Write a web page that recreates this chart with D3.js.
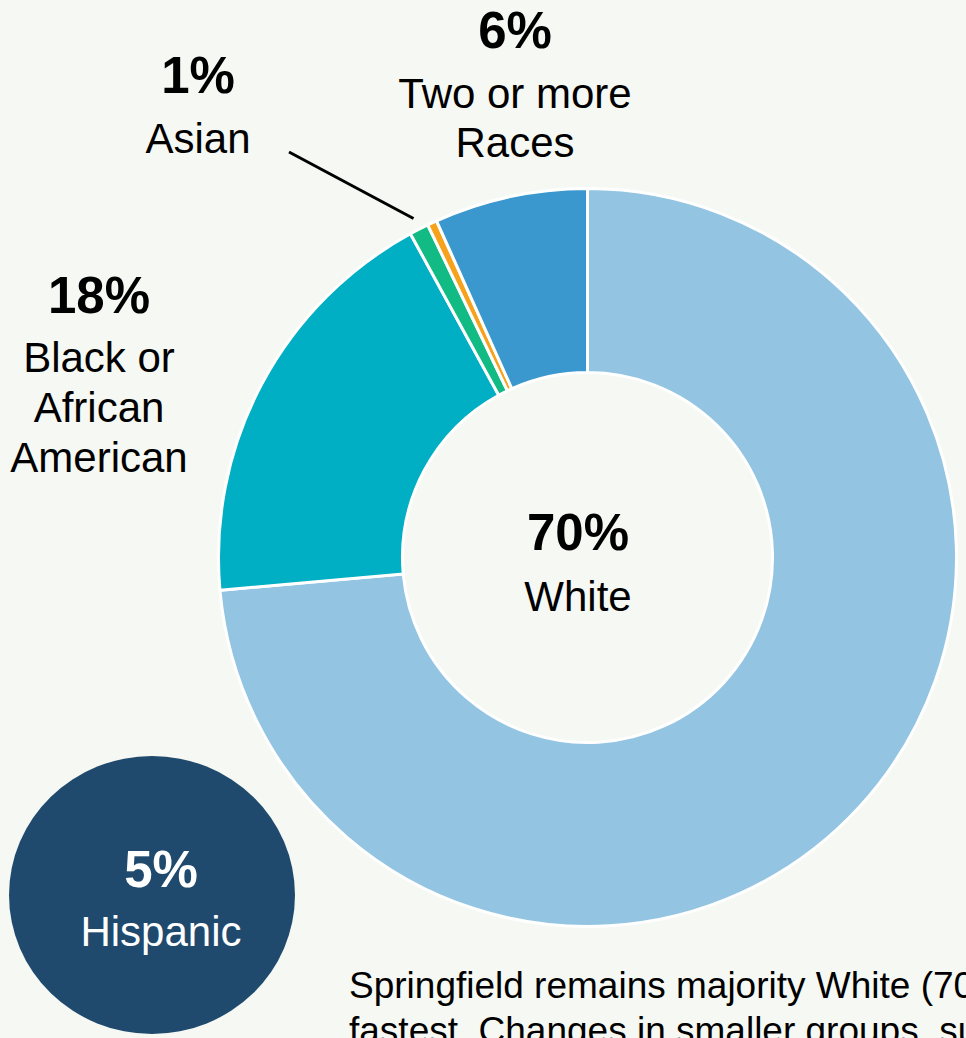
<!DOCTYPE html>
<html>
<head>
<meta charset="utf-8">
<script src="https://cdn.jsdelivr.net/npm/d3@7"></script>
<style>
  html, body { margin: 0; padding: 0; background: #F6F8F3; overflow: hidden; }
  svg { display: block; font-family: Arial, "Liberation Sans", sans-serif; }
</style>
</head>
<body>
<svg id="chart" width="966" height="1038"></svg>
<script>
// ---- data ----
const categories = ["White", "Black or African American", "Asian", "Other", "Two or more Races"];
const values = [70.2, 17.6, 0.8, 0.4, 6.4];
const colors = ["#93C5E3", "#00AFC3", "#12BA84", "#F6A21C", "#3A98CE"];
const labelPct = ["70%", "18%", "1%", "", "6%"];
const labelLines = [["White"], ["Black or", "African", "American"], ["Asian"], [], ["Two or more", "Races"]];
const hispanicPct = "5%";
const hispanicLabel = "Hispanic";
const noteLines = [
  "Springfield remains majority White (70%), while the Hispanic population grew",
  "fastest. Changes in smaller groups, such as Asian residents, were modest."
];

// ---- layout ----
const W = 966, H = 1038;
const cx = 587.5, cy = 557.5, rOuter = 369, rInner = 185;
const svg = d3.select("#chart");
svg.append("rect").attr("width", W).attr("height", H).attr("fill", "#F6F8F3");

const pie = d3.pie().sort(null).value(d => d)(values);
const arc = d3.arc().innerRadius(rInner).outerRadius(rOuter);

const g = svg.append("g").attr("transform", `translate(${cx},${cy})`);
g.selectAll("path").data(pie).join("path")
  .attr("d", arc)
  .attr("fill", (d, i) => colors[i])
  .attr("stroke", "#ffffff")
  .attr("stroke-width", 3);

// label positions (absolute)
const labelPos = [
  {x: 578, y: 550, lh: 61},
  {x: 99, y: 313, lh: 59, lh2: 50},
  {x: 198, y: 93, lh: 60},
  null,
  {x: 515, y: 48, lh: 60, lh2: 49}
];

labelPos.forEach((p, i) => {
  if (!p) return;
  svg.append("text").attr("x", p.x).attr("y", p.y)
    .attr("text-anchor", "middle").attr("font-weight", "bold")
    .attr("font-size", 51).attr("fill", "#000").text(labelPct[i]);
  labelLines[i].forEach((t, j) => {
    svg.append("text").attr("x", p.x)
      .attr("y", p.y + p.lh + j * (p.lh2 || 50))
      .attr("text-anchor", "middle").attr("font-size", 42)
      .attr("fill", "#000").text(t);
  });
});

// leader line for Asian
const asianMid = (pie[2].startAngle + pie[2].endAngle) / 2;
const lx2 = cx + Math.sin(asianMid) * (rOuter + 12);
const ly2 = cy - Math.cos(asianMid) * (rOuter + 12);
svg.append("line").attr("x1", 289).attr("y1", 152).attr("x2", lx2).attr("y2", ly2)
  .attr("stroke", "#000").attr("stroke-width", 3);

// Hispanic bubble
svg.append("ellipse").attr("cx", 152).attr("cy", 895).attr("rx", 143).attr("ry", 139)
  .attr("fill", "#1F4A6E");
svg.append("text").attr("x", 161).attr("y", 887).attr("text-anchor", "middle")
  .attr("font-weight", "bold").attr("font-size", 51).attr("fill", "#fff").text(hispanicPct);
svg.append("text").attr("x", 161).attr("y", 946).attr("text-anchor", "middle")
  .attr("font-size", 42).attr("fill", "#fff").text(hispanicLabel);

// note text (clipped at the right edge, as in the reference)
noteLines.forEach((t, j) => {
  svg.append("text").attr("x", 349).attr("y", 998 + j * 45)
    .attr("font-size", 37).attr("fill", "#000").text(t);
});
</script>
</body>
</html>
